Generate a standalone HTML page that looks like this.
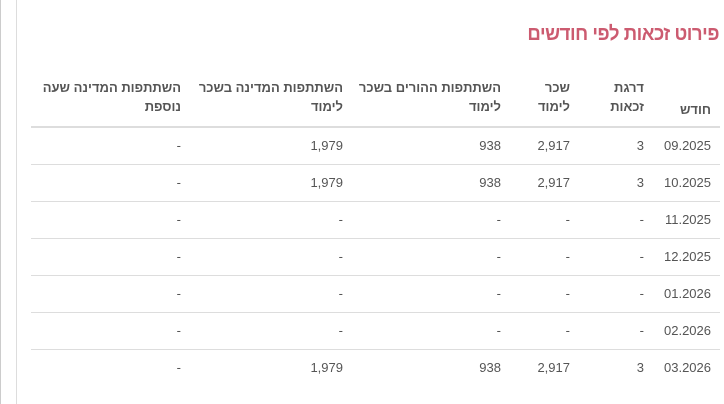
<!DOCTYPE html>
<html><head><meta charset="utf-8"><style>
body{margin:0;width:724px;height:404px;background:#fff;position:relative;overflow:hidden;font-family:"Liberation Sans","Noto Sans CJK JP",sans-serif;}
.a{position:absolute;white-space:nowrap;}
.t{right:5px;top:23px;font-size:20px;color:#cc5b70;direction:rtl;transform:scaleX(0.93);transform-origin:right;font-weight:bold;letter-spacing:-0.5px;}
.h{font-size:13px;font-weight:bold;color:#555;direction:rtl;text-align:right;line-height:19px;}
.c{font-size:13px;color:#555;text-align:right;}
.l{position:absolute;left:31px;right:4px;height:1px;background:#ddd;}
</style></head><body>
<div class="a" style="left:0;top:0;width:1px;height:404px;background:#ccc"></div>
<div class="a" style="left:16px;top:0;width:1px;height:404px;background:#ddd"></div>
<div class="a t">פירוט זכאות לפי חודשים</div>
<div class="a h" style="right:13px;top:100px">חודש</div>
<div class="a h" style="right:80px;top:78px">דרגת<br>זכאות</div>
<div class="a h" style="right:154px;top:78px">שכר<br>לימוד</div>
<div class="a h" style="right:223px;top:78px">השתתפות ההורים בשכר<br>לימוד</div>
<div class="a h" style="right:381px;top:78px">השתתפות המדינה בשכר<br>לימוד</div>
<div class="a h" style="right:543px;top:78px">השתתפות המדינה שעה<br>נוספת</div>
<div class="l" style="top:126px;height:2px"></div>
<div class="l" style="top:164px"></div>
<div class="l" style="top:201px"></div>
<div class="l" style="top:238px"></div>
<div class="l" style="top:275px"></div>
<div class="l" style="top:312px"></div>
<div class="l" style="top:349px"></div>
<div id="rows"></div>
<script>
var d=[["09.2025","3","2,917","938","1,979","-"],["10.2025","3","2,917","938","1,979","-"],["11.2025","-","-","-","-","-"],["12.2025","-","-","-","-","-"],["01.2026","-","-","-","-","-"],["02.2026","-","-","-","-","-"],["03.2026","3","2,917","938","1,979","-"]];
var r=[13,80,154,223,381,543],h="";
d.forEach(function(row,i){var y=138+i*37;row.forEach(function(v,j){h+='<div class="a c" style="right:'+r[j]+'px;top:'+y+'px">'+v+'</div>';});});
document.getElementById("rows").innerHTML=h;
</script>
</body></html>
